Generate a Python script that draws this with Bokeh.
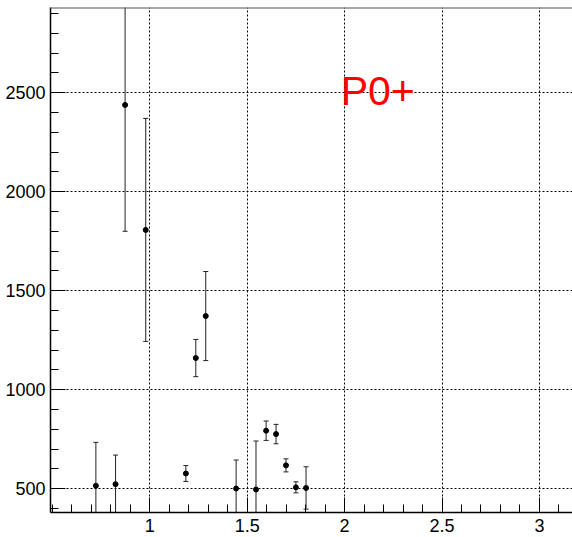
import numpy as np
from bokeh.plotting import figure
from bokeh.models import (ColumnDataSource, FixedTicker, Range1d, Span, Label,
                          CustomJSTickFormatter)
from bokeh.embed import file_html
from bokeh.resources import INLINE

# ---- data ----
x_vals = [0.723, 0.824, 0.873, 0.979, 1.185, 1.236, 1.287, 1.443, 1.545,
          1.597, 1.648, 1.699, 1.750, 1.802]
y_vals = [515, 523, 2438, 1807, 577, 1160, 1372, 501, 496,
          793, 776, 618, 507, 504]
y_errs = [219, 147, 638, 563, 40, 94, 225, 144, 245,
          49, 49, 33, 28, 107]
x_major = [1, 1.5, 2, 2.5, 3]
y_major = [500, 1000, 1500, 2000, 2500]
title_text = "P0+"

upper = [y + e for y, e in zip(y_vals, y_errs)]
lower = [y - e for y, e in zip(y_vals, y_errs)]
src = ColumnDataSource(dict(x=x_vals, y=y_vals, upper=upper, lower=lower))

FONT = "'Liberation Sans', Arial, sans-serif"

p = figure(frame_width=522, frame_height=505,
           x_range=Range1d(0.49, 3.17), y_range=Range1d(380, 2930),
           output_backend="svg", toolbar_location=None,
           min_border_left=50, min_border_right=0,
           min_border_top=7, min_border_bottom=25)
p.outline_line_color = None
p.background_fill_color = "white"
p.border_fill_color = "white"

# axes
p.xaxis.ticker = FixedTicker(ticks=x_major,
                             minor_ticks=list(np.round(np.arange(0.5, 3.2, 0.1), 2)))
p.yaxis.ticker = FixedTicker(ticks=y_major,
                             minor_ticks=list(range(400, 2901, 100)))
p.xaxis.formatter = CustomJSTickFormatter(code="return tick.toString();")
for ax in (p.xaxis[0], p.yaxis[0]):
    ax.axis_line_color = "black"
    ax.axis_line_width = 1.5
    ax.major_tick_in = 15
    ax.major_tick_out = 0
    ax.minor_tick_in = 8
    ax.minor_tick_out = 0
    ax.major_tick_line_color = "black"
    ax.minor_tick_line_color = "black"
    ax.major_label_text_font = FONT
    ax.major_label_text_font_size = "18px"
    ax.major_label_text_color = "black"
p.yaxis.major_label_standoff = 5
p.xaxis.major_label_standoff = 6

# grid
for g in (p.xgrid[0], p.ygrid[0]):
    g.grid_line_color = "black"
    g.grid_line_dash = "2 2"
    g.grid_line_width = 1
p.ygrid.ticker = FixedTicker(ticks=y_major)
p.xgrid.ticker = FixedTicker(ticks=x_major)

# top frame line
p.add_layout(Span(location=2930, dimension="width", line_color="#555555",
                  line_width=2))

# error bars
p.segment(x0="x", y0="lower", x1="x", y1="upper", source=src,
          line_color="#222222", line_width=1)
p.scatter(x="x", y="upper", source=src, marker="dash", size=5,
          line_color="#222222", line_width=1)
p.scatter(x="x", y="lower", source=src, marker="dash", size=5,
          line_color="#222222", line_width=1)
p.scatter(x="x", y="y", source=src, marker="circle", size=5,
          fill_color="black", line_color="black")

p.add_layout(Label(x=1.98, y=2510, text=title_text, text_color="red",
                   text_font="'Liberation Sans', Arial, sans-serif",
                   text_font_size="41px", text_baseline="alphabetic"))

open("out.html", "w").write(file_html(p, INLINE))
